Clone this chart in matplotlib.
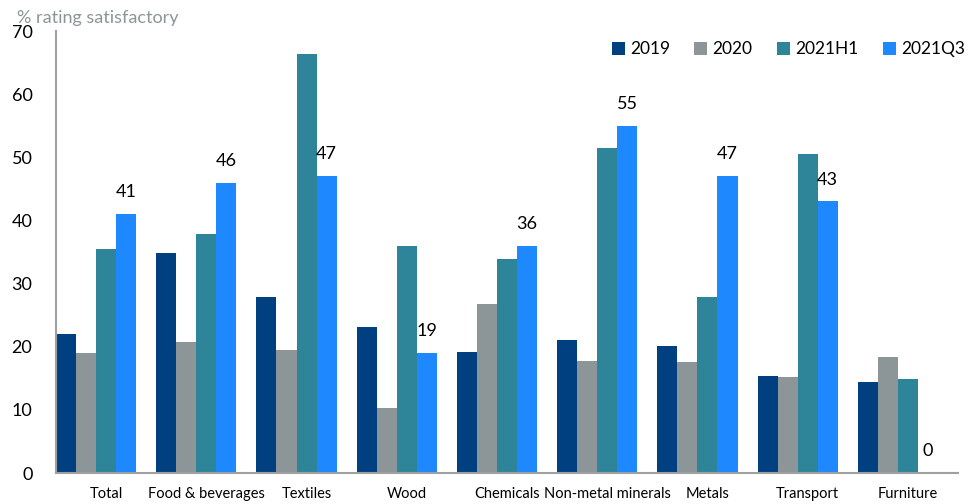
import numpy as np
import matplotlib
matplotlib.use('Agg')
import matplotlib.pyplot as plt

plt.rcParams['font.family'] = ['Lato', 'DejaVu Sans']

categories = ['Total', 'Food & beverages', 'Textiles', 'Wood', 'Chemicals',
              'Non-metal minerals', 'Metals', 'Transport', 'Furniture']
series_names = ['2019', '2020', '2021H1', '2021Q3']
v2019 = [22.0, 34.9, 27.9, 23.1, 19.2, 21.1, 20.1, 15.4, 14.4]
v2020 = [19.0, 20.8, 19.5, 10.3, 26.8, 17.7, 17.6, 15.2, 18.4]
v2021h1 = [35.5, 37.9, 66.4, 36.0, 33.9, 51.5, 27.9, 50.5, 14.9]
v2021q3 = [41, 46, 47, 19, 36, 55, 47, 43, 0]
colors = ['#003F80', '#8C9698', '#2E8599', '#1E88FF']

fig = plt.figure(figsize=(9.78, 5.04), dpi=100)
ax = fig.add_axes([56 / 978, 31 / 504, (958 - 56) / 978, (473 - 31) / 504])

x = np.arange(len(categories))
w = 0.2
all_series = [v2019, v2020, v2021h1, v2021q3]
for k, (vals, name, c) in enumerate(zip(all_series, series_names, colors)):
    ax.bar(x + (k - 1.5) * w, vals, width=w, color=c, label=name, zorder=2)

# labels only on the latest series
for xi, v in zip(x, v2021q3):
    ax.annotate(f'{v:.0f}', (xi + 1.5 * w, v), xytext=(0, 10),
                textcoords='offset points', ha='center', va='bottom', fontsize=13)

ax.set_xlim(-0.4, 8.6)
ax.set_ylim(0, 70)
ax.set_yticks(range(0, 71, 10))
ax.set_xticks(x + 0.1)
ax.set_xticklabels(categories, fontsize=10.5)
ax.tick_params(axis='y', length=0, labelsize=13, pad=17)
ax.tick_params(axis='x', length=0, pad=10)

for s in ['top', 'right']:
    ax.spines[s].set_visible(False)
for s in ['left', 'bottom']:
    ax.spines[s].set_color('#A0A0A0')
    ax.spines[s].set_linewidth(1.5)

fig.text(17 / 978, 1 - 18 / 504, '% rating satisfactory', color='#8C9698',
         fontsize=13, va='center', ha='left')

ax.legend(ncol=4, frameon=False, loc='upper right', bbox_to_anchor=(1.025, 1.012),
          fontsize=12.5, handlelength=0.75, handleheight=0.75, handletextpad=0.3,
          columnspacing=1.4)

fig.savefig('out.png', dpi=100)
